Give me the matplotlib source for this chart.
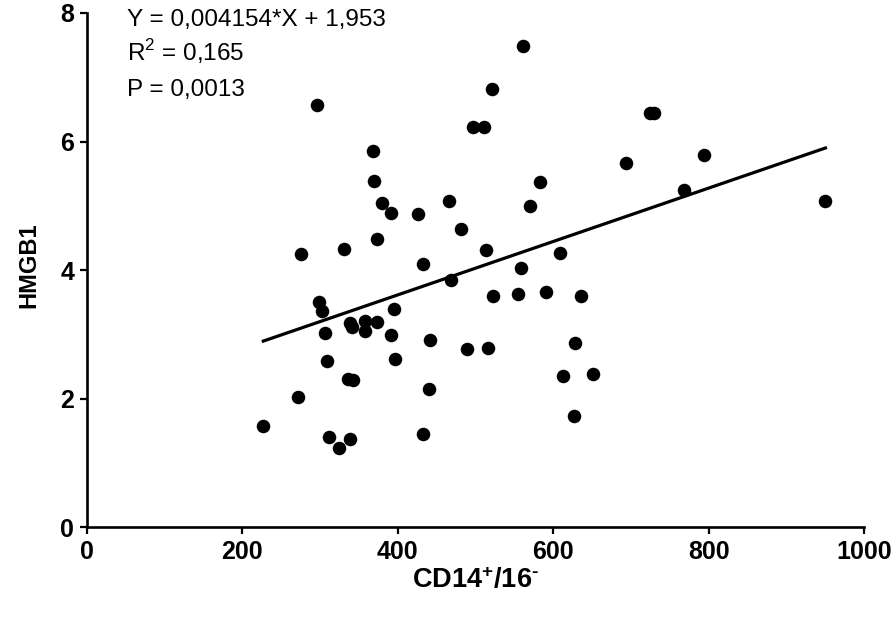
import matplotlib
matplotlib.use("Agg")
import matplotlib.pyplot as plt
import numpy as np

plt.rcParams['font.family'] = ['Liberation Sans', 'DejaVu Sans']
plt.rcParams['mathtext.fontset'] = 'custom'
plt.rcParams['mathtext.rm'] = 'Liberation Sans:bold'
plt.rcParams['mathtext.bf'] = 'Liberation Sans:bold'

# CD14+/16- values
cd14 = [227, 272, 275, 296, 299, 302, 307, 309, 311, 325,
        331, 336, 342, 339, 341, 339, 358, 358, 368, 370,
        373, 373, 380, 391, 391, 395, 397, 426, 432, 432,
        440, 442, 466, 469, 481, 489, 497, 511, 514, 516,
        521, 523, 555, 558, 561, 570, 583, 591, 609, 613,
        626, 628, 635, 651, 693, 724, 730, 768, 794, 950]
# HMGB1 values
hmgb1 = [1.57, 2.02, 4.25, 6.56, 3.50, 3.36, 3.02, 2.59, 1.41, 1.24,
         4.33, 2.30, 2.29, 3.17, 3.11, 1.37, 3.21, 3.06, 5.86, 5.38,
         3.19, 4.49, 5.05, 4.89, 2.99, 3.40, 2.62, 4.88, 4.10, 1.45,
         2.15, 2.92, 5.08, 3.85, 4.64, 2.77, 6.22, 6.22, 4.32, 2.79,
         6.81, 3.59, 3.63, 4.03, 7.49, 5.00, 5.37, 3.66, 4.26, 2.36,
         1.73, 2.87, 3.59, 2.38, 5.67, 6.45, 6.45, 5.25, 5.79, 5.08]

slope = 0.004154
intercept = 1.953
stats_text = ["Y = 0,004154*X + 1,953", "R$^{\\mathregular{2}}$ = 0,165", "P = 0,0013"]
x_ticks = [0, 200, 400, 600, 800, 1000]
y_ticks = [0, 2, 4, 6, 8]

fig = plt.figure(figsize=(8.96, 6.18), dpi=100)
ax = fig.add_axes([86.8/896, (618-527.3)/618, (864.3-86.8)/896, (527.3-12.9)/618])

ax.scatter(cd14, hmgb1, s=95, color='black', zorder=3, linewidths=0)
xl = np.array([min(cd14), max(cd14)])
ax.plot(xl, slope*xl + intercept, color='black', lw=2.3, zorder=2)

ax.set_xlim(0, 1000)
ax.set_ylim(0, 8)
ax.set_xticks(x_ticks)
ax.set_yticks(y_ticks)
for s in ['top', 'right']:
    ax.spines[s].set_visible(False)
for s in ['left', 'bottom']:
    ax.spines[s].set_linewidth(1.9)
ax.tick_params(direction='out', length=5, width=1.6, labelsize=18, pad=4)
for lab in ax.get_xticklabels() + ax.get_yticklabels():
    lab.set_fontweight('bold')

ax.set_xlabel(r'CD14$^{\text{+}}$/16$^{\text{-}}$', fontsize=19.5, fontweight='bold', va='center')
ax.xaxis.set_label_coords(0.5, -0.103)
ax.set_ylabel('HMGB1', fontsize=17, fontweight='bold', va='center')
ax.yaxis.set_label_coords(-0.075, 0.51)

baselines = [26, 61, 96]
for t, b in zip(stats_text, baselines):
    fig.text(127/896, (618-b)/618, t, fontsize=17.5, va='baseline', ha='left')

fig.savefig('out.png', dpi=100)
